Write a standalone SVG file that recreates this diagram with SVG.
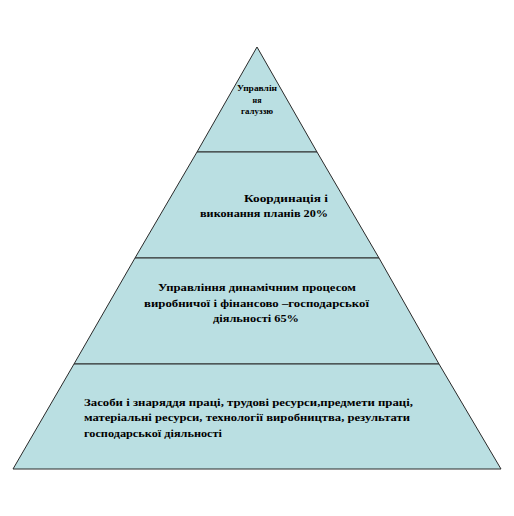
<svg xmlns="http://www.w3.org/2000/svg" width="514" height="516" viewBox="0 0 514 516">
<style>
.band{fill:#badfe2;stroke:#2a2a2a;stroke-width:1}
.t{font-family:"Liberation Serif","Times New Roman",serif;font-weight:bold;fill:#000}
.s{font-size:8px}
.m{font-size:11px}
</style>
<rect width="514" height="516" fill="#fff"/>
<g id="level1">
<polygon class="band" points="257,47 317,152 197,152"/>
<text class="t s" x="257" y="91" text-anchor="middle" textLength="40" lengthAdjust="spacingAndGlyphs">Управлін</text>
<text class="t s" x="257" y="103" text-anchor="middle">ня</text>
<text class="t s" x="257" y="114" text-anchor="middle" textLength="32" lengthAdjust="spacingAndGlyphs">галуззю</text>
</g>
<g id="level2">
<polygon class="band" points="197,152 317,152 379,258 135,258"/>
<text class="t m" x="244" y="202" textLength="84" lengthAdjust="spacingAndGlyphs">Координація  і</text>
<text class="t m" x="200" y="217" textLength="128" lengthAdjust="spacingAndGlyphs">виконання планів  20%</text>
</g>
<g id="level3">
<polygon class="band" points="135,258 379,258 439,364 74,364"/>
<text class="t m" x="158" y="291" textLength="198" lengthAdjust="spacingAndGlyphs">Управління  динамічним процесом</text>
<text class="t m" x="144" y="307" textLength="225" lengthAdjust="spacingAndGlyphs">виробничої і фінансово –господарської</text>
<text class="t m" x="213" y="322" textLength="86" lengthAdjust="spacingAndGlyphs">діяльності  65%</text>
</g>
<g id="level4">
<polygon class="band" points="74,364 439,364 501,469 13,469"/>
<text class="t m" x="84" y="406" textLength="329" lengthAdjust="spacingAndGlyphs">Засоби і знаряддя  праці, трудові ресурси,предмети праці,</text>
<text class="t m" x="84" y="421" textLength="326" lengthAdjust="spacingAndGlyphs">матеріальні  ресурси, технології  виробництва,  результати</text>
<text class="t m" x="84" y="437" textLength="138" lengthAdjust="spacingAndGlyphs">господарської діяльності</text>
</g>
<g id="connectors"></g>
</svg>
